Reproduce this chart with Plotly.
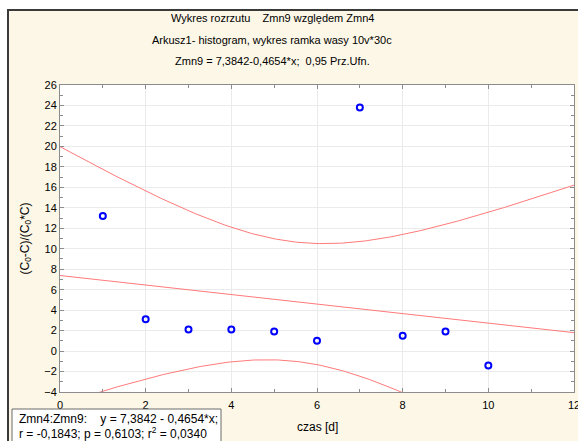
import numpy as np
import plotly.graph_objects as go

# ---- data ----
czas = [1, 2, 3, 4, 5, 6, 7, 8, 9, 10]
wartosci = [13.2, 3.1, 2.1, 2.1, 1.9, 1.0, 23.8, 1.5, 1.9, -1.4]

intercept = 7.3842
slope = -0.4654
T_CRIT = 2.306  # t(0.975, df=8)

title_lines = [
    "Wykres rozrzutu\u00a0\u00a0\u00a0\u00a0Zmn9 względem Zmn4",
    "Arkusz1- histogram, wykres ramka wasy 10v*30c",
    "Zmn9 = 7,3842-0,4654*x;\u00a0 0,95 Prz.Ufn.",
]
stats_lines = [
    "Zmn4:Zmn9:\u00a0\u00a0\u00a0\u00a0y\u00a0=\u00a07,3842\u00a0-\u00a00,4654*x;",
    "r\u00a0=\u00a0-0,1843;\u00a0p\u00a0=\u00a00,6103;\u00a0r<sup>2</sup>\u00a0=\u00a00,0340",
]
x_ticks = [0, 2, 4, 6, 8, 10, 12]
y_ticks = list(range(-4, 27, 2))

# ---- regression and 95% confidence band derived from the data ----
x = np.array(czas, dtype=float)
y = np.array(wartosci, dtype=float)
n = len(x)
xm = x.mean()
sxx = ((x - xm) ** 2).sum()
res = y - (intercept + slope * x)
s = np.sqrt((res ** 2).sum() / (n - 2))
xg = np.linspace(0, 12, 241)
fit = intercept + slope * xg
hw = T_CRIT * s * np.sqrt(1.0 / n + (xg - xm) ** 2 / sxx)

RED = "#ff7a7a"
fig = go.Figure()
fig.add_trace(go.Scatter(x=xg, y=fit + hw, mode="lines", line=dict(color=RED, width=1), hoverinfo="skip"))
fig.add_trace(go.Scatter(x=xg, y=fit - hw, mode="lines", line=dict(color=RED, width=1), hoverinfo="skip"))
fig.add_trace(go.Scatter(x=xg, y=fit, mode="lines", line=dict(color=RED, width=1), hoverinfo="skip"))
fig.add_trace(go.Scatter(x=czas, y=wartosci, mode="markers",
                         marker=dict(symbol="circle-open", size=6, color="#0000ff", line=dict(width=2, color="#0000ff"))))

L, R, T, B = 60, 4, 85, 49
W, H = 578, 441
pw, ph = W - L - R, H - T - B

def px(p):
    return (p - L) / pw

def py(p):
    return (H - B - p) / ph

FONT = "Liberation Sans, Arial"
AX = dict(showline=True, linecolor="#8c8c8c", linewidth=1, mirror="allticks",
          ticks="inside", ticklen=4, tickcolor="#8c8c8c",
          showgrid=True, gridcolor="#ebebeb", gridwidth=1, zeroline=False,
          automargin=False,
          tickfont=dict(family=FONT, size=11, color="#000"),
          minor=dict(ticks="inside", ticklen=3, tickcolor="#8c8c8c", dtick=1, showgrid=False))

fig.update_xaxes(range=[0, 12], tickvals=x_ticks, ticklabelstandoff=3, ticklabeloverflow="allow", **AX)
fig.update_yaxes(range=[-4, 26], tickvals=y_ticks, **AX)

shapes = [
    dict(type="rect", xref="paper", yref="paper", x0=px(8), x1=1.2, y0=-0.4, y1=py(10),
         fillcolor="#fdf7e7", line=dict(color="#3a3a3a", width=2), layer="below"),
    dict(type="rect", xref="paper", yref="paper", x0=0, x1=1, y0=0, y1=1,
         fillcolor="#ffffff", line=dict(width=0), layer="below"),
    dict(type="rect", xref="paper", yref="paper", x0=px(12), x1=px(221), y0=-0.4, y1=py(409),
         fillcolor="#ffffff", line=dict(color="#6a6a6a", width=1), layer="above"),
]

ann = []
for txt, yy in zip(title_lines, [18, 40, 61]):
    ann.append(dict(text=txt, x=px(272), y=py(yy), xref="paper", yref="paper", showarrow=False,
                    xanchor="center", yanchor="middle", font=dict(family=FONT, size=11, color="#000")))
for txt, yy in zip(stats_lines, [419, 433]):
    ann.append(dict(text=txt, x=px(17), y=py(yy), xref="paper", yref="paper", showarrow=False,
                    xanchor="left", yanchor="middle", font=dict(family=FONT, size=12, color="#000")))
ann.append(dict(text="czas [d]", x=0.5, y=py(427), xref="paper", yref="paper", showarrow=False,
                xanchor="center", yanchor="middle", font=dict(family=FONT, size=12, color="#000")))
ann.append(dict(text="(C<sub>0</sub>-C)/(C<sub>0</sub>*C)", x=px(25), y=0.5, xref="paper", yref="paper",
                showarrow=False, textangle=-90, xanchor="center", yanchor="middle",
                font=dict(family=FONT, size=12, color="#000")))

fig.update_layout(width=W, height=H, margin=dict(l=L, r=R, t=T, b=B, pad=0, autoexpand=False),
                  paper_bgcolor="#ffffff", plot_bgcolor="#ffffff", showlegend=False,
                  shapes=shapes, annotations=ann)

fig.write_html("out.html", config={"displayModeBar": False},
               post_script="document.body.style.margin='0';")
